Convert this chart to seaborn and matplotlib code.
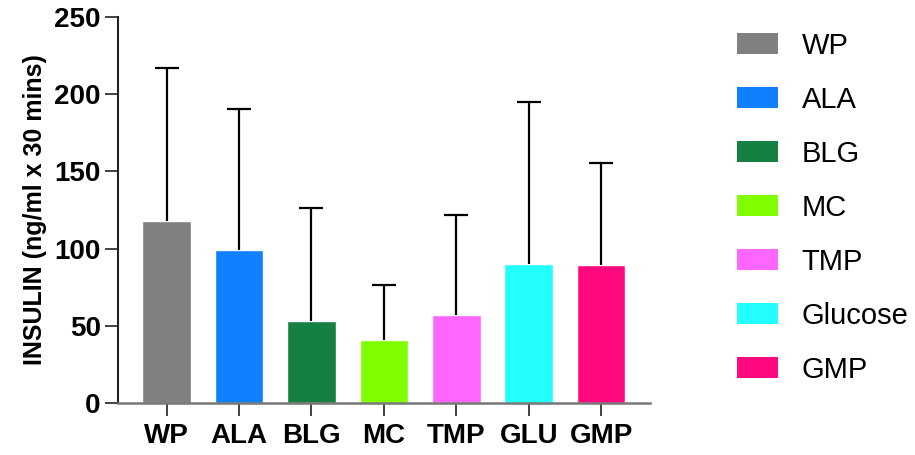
import matplotlib
matplotlib.use("Agg")
import matplotlib.pyplot as plt
import seaborn as sns
import pandas as pd
from matplotlib.patches import Patch

categories = ["WP", "ALA", "BLG", "MC", "TMP", "GLU", "GMP"]
legend_labels = ["WP", "ALA", "BLG", "MC", "TMP", "Glucose", "GMP"]
means = [117.9, 99.0, 53.0, 40.7, 56.9, 90.2, 89.3]
upper = [217.1, 190.5, 126.1, 76.3, 121.8, 194.9, 155.5]
colors = ["#808080", "#1080FF", "#148042", "#80FF00", "#FF66FF", "#22FFFF", "#FF0880"]
yticks = [0, 50, 100, 150, 200, 250]

sns.set_style("ticks")
plt.rcParams["font.family"] = ["Liberation Sans", "DejaVu Sans"]
plt.rcParams["text.color"] = "black"

df = pd.DataFrame({"cat": categories, "val": means})
fig = plt.figure(figsize=(9.15, 4.55), dpi=100)
ax = fig.add_axes([0.129, 0.115, 0.581, 0.847])

sns.barplot(data=df, x="cat", y="val", hue="cat", palette=colors,
            width=0.67, legend=False, ax=ax, saturation=1)
err = [u - m for u, m in zip(upper, means)]
cont = ax.errorbar(range(len(categories)), means, yerr=[[0] * len(means), err],
                   fmt="none", ecolor="black", elinewidth=1.6, capsize=8.6,
                   capthick=1.6, zorder=3)
caplines = cont.lines[1]
if len(caplines) == 2:
    caplines[0].set_visible(False)

ax.set_xlim(-0.67, 6.67)
ax.set_ylim(0, 250)
ax.set_yticks(yticks)
ax.set_xlabel("")
ax.set_ylabel("INSULIN (ng/ml x 30 mins)", fontsize=18, fontweight="bold",
              labelpad=5, color="black")
for lbl in ax.get_xticklabels() + ax.get_yticklabels():
    lbl.set_fontweight("bold")
    lbl.set_fontsize(20)
    lbl.set_color("black")
ax.tick_params(axis="both", length=9.5, width=1.3, color="#333333")
ax.tick_params(axis="x", pad=5)
ax.tick_params(axis="y", pad=3)
sns.despine(ax=ax)
ax.spines["left"].set_linewidth(1.5)
ax.spines["left"].set_color("#222222")
ax.spines["bottom"].set_linewidth(1.8)
ax.spines["bottom"].set_color("#777777")

handles = [Patch(facecolor=c, edgecolor="none") for c in colors]
leg = fig.legend(handles, legend_labels, loc="upper left", bbox_to_anchor=(0.806, 0.93),
                 frameon=False, fontsize=21, handlelength=1.4, handleheight=0.75,
                 labelspacing=0.89, handletextpad=0.8, borderaxespad=0, borderpad=0)
for t in leg.get_texts():
    t.set_color("black")

fig.savefig("out.png", dpi=100)
